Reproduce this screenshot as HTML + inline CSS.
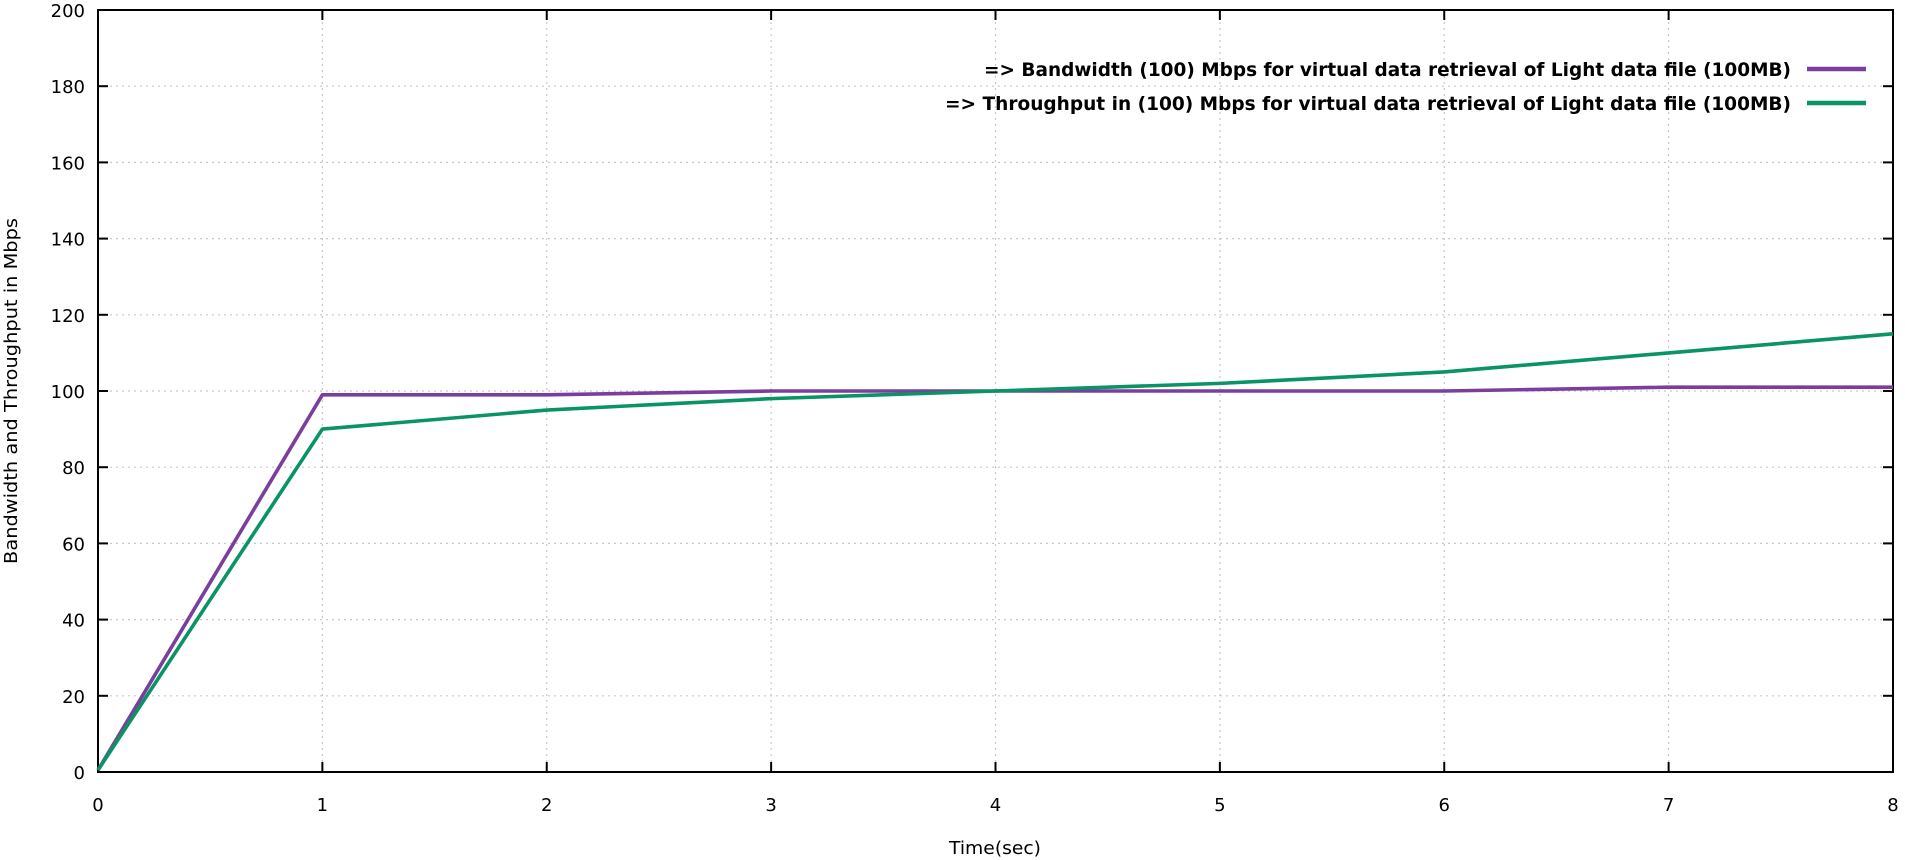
<!DOCTYPE html>
<html><head><meta charset="utf-8"><style>
html,body{margin:0;padding:0;background:#fff;}
svg{display:block;font-family:"DejaVu Sans","Liberation Sans",sans-serif;}
</style></head><body>
<svg id="chart" width="1905" height="860" viewBox="0 0 1905 860" xmlns="http://www.w3.org/2000/svg">
<g id="grid"></g>
<g id="axes"></g>
<g id="series"></g>
<text x="949" y="854" font-size="18" textLength="92" lengthAdjust="spacingAndGlyphs" fill="#000">Time(sec)</text>
<text transform="translate(17,391) rotate(-90)" font-size="18" text-anchor="middle" textLength="346" lengthAdjust="spacingAndGlyphs" fill="#000">Bandwidth and Throughput in Mbps</text>
<g id="legend"></g>
</svg>
<script>
const xValues = [0,1,2,3,4,5,6,7,8];
const bandwidth = [0.5,99,99,100,100,100,100,101,101];
const throughput = [0.5,90,95,98,100,102,105,110,115];
const xTicks = [0,1,2,3,4,5,6,7,8];
const yTicks = [0,20,40,60,80,100,120,140,160,180,200];
const seriesNames = ["=>  Bandwidth (100) Mbps for virtual data retrieval of Light data file (100MB)","=>  Throughput in (100) Mbps for virtual data retrieval of Light data file (100MB)"];
const L=98,R=1893,T=10,B=772;
function sx(v){return L+(v-0)/(8-0)*(R-L);}
function sy(v){return B-(v-0)/(200-0)*(B-T);}
const NS="http://www.w3.org/2000/svg";
function mk(tag,attrs,parent){const e=document.createElementNS(NS,tag);for(const k in attrs)e.setAttribute(k,attrs[k]);parent.appendChild(e);return e;}
const grid=document.getElementById('grid'),axes=document.getElementById('axes'),series=document.getElementById('series'),legend=document.getElementById('legend');
xTicks.forEach(t=>{
  const x=sx(t);
  if(t>0&&t<8){const g=mk('line',{x1:x,y1:T,x2:x,y2:B,stroke:'#c8c8c8','stroke-width':1.2,'stroke-dasharray':'2,4'},grid);
  
  }
  mk('line',{x1:x,y1:B,x2:x,y2:B-10,stroke:'#000','stroke-width':2},axes);
  mk('line',{x1:x,y1:T,x2:x,y2:T+10,stroke:'#000','stroke-width':2},axes);
  const lb=mk('text',{x:x,y:B+39,'font-size':18,'text-anchor':'middle',fill:'#000'},axes);
  lb.textContent=t;
  
  
});
yTicks.forEach(t=>{
  const y=sy(t);
  if(t>0&&t<200){const g=mk('line',{x1:L,y1:y,x2:R,y2:y,stroke:'#c8c8c8','stroke-width':1.2,'stroke-dasharray':'2,4'},grid);
  
  }
  mk('line',{x1:L,y1:y,x2:L+10,y2:y,stroke:'#000','stroke-width':2},axes);
  mk('line',{x1:R,y1:y,x2:R-10,y2:y,stroke:'#000','stroke-width':2},axes);
  const lb=mk('text',{x:L-13,y:y+7,'font-size':18,'text-anchor':'end',fill:'#000'},axes);
  lb.textContent=t;
  
  
});
const frame=mk('rect',{x:L,y:T,width:R-L,height:B-T,fill:'none',stroke:'#000','stroke-width':2},axes);


const colors=['#7a3f9e','#0a9465'];
const legendWidths=[807,846];
[bandwidth,throughput].forEach((d,i)=>{
  const pts=d.map((v,j)=>sx(xValues[j])+','+sy(v)).join(' ');
  const pl=mk('polyline',{points:pts,fill:'none',stroke:colors[i],'stroke-width':3.6,'stroke-linejoin':'round'},series);
  
  
  const ly=[69,103][i];
  const lt=mk('text',{x:1791-legendWidths[i],y:ly+7,'font-size':19,'font-weight':'bold',textLength:legendWidths[i],lengthAdjust:'spacingAndGlyphs',fill:'#000'},legend);
  lt.textContent=seriesNames[i];
  
  
  const ll=mk('line',{x1:1807,y1:ly,x2:1866,y2:ly,stroke:colors[i],'stroke-width':4.5},legend);
  
  
});
</script>
</body></html>
